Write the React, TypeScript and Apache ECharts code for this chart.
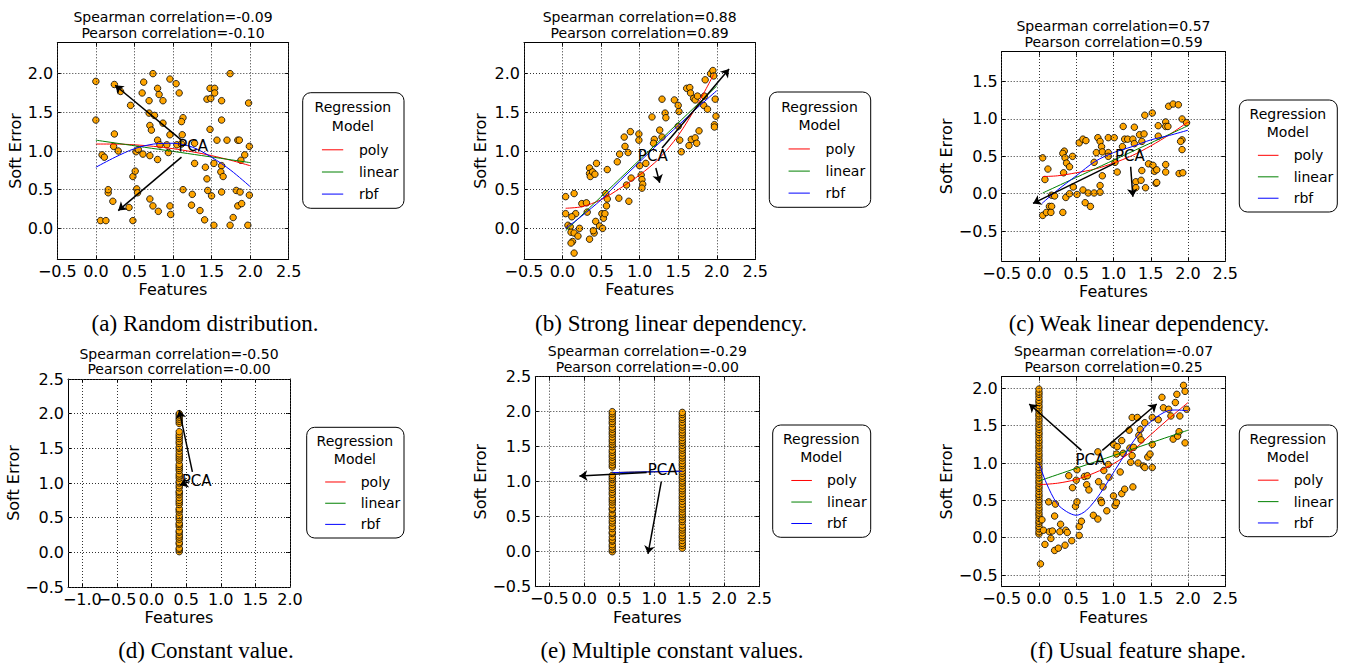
import React, { useEffect, useRef } from "react";
import * as echarts from "echarts";

const FONT = "DejaVu Sans";
const SERIF = "Liberation Serif";

// ---------- (a) Random distribution ----------
const aPoints: number[][] = [
  [0.0, 1.9], [0.0, 1.4], [0.24, 1.86], [0.32, 1.77], [0.45, 1.59], [0.62, 1.89], [0.6, 1.75], [0.74, 2.0],
  [0.69, 1.65], [0.8, 1.81], [0.82, 1.73], [0.87, 1.65], [0.96, 1.93], [1.04, 1.87], [1.08, 1.75], [0.69, 1.49],
  [0.76, 1.46], [0.7, 1.33], [0.72, 1.27], [0.87, 1.36], [0.96, 1.21], [0.8, 1.14], [1.13, 1.43], [1.11, 1.38],
  [1.12, 1.21], [0.24, 1.22], [0.23, 1.06], [0.29, 1.0], [0.08, 0.95], [0.11, 0.92], [0.52, 0.99], [0.55, 1.02],
  [0.61, 0.96], [0.7, 0.94], [0.8, 0.89], [0.83, 1.08], [0.92, 1.08], [0.94, 0.98], [1.05, 1.08], [1.11, 1.09],
  [1.28, 1.1], [1.28, 0.84], [1.42, 0.79], [1.53, 0.84], [1.44, 1.67], [1.49, 1.68], [1.48, 1.81], [1.54, 1.81],
  [1.54, 1.75], [1.63, 1.65], [1.74, 2.0], [1.48, 1.28], [1.63, 1.4], [1.57, 1.14], [1.7, 1.14], [1.84, 1.14],
  [1.86, 1.14], [1.98, 1.62], [1.99, 1.06], [1.93, 0.95], [1.88, 0.88], [1.63, 0.81], [1.62, 0.73], [1.65, 0.67],
  [1.44, 0.64], [0.48, 0.67], [0.51, 0.74], [0.16, 0.46], [0.16, 0.5], [0.53, 0.51], [0.54, 0.46], [0.22, 0.35],
  [0.43, 0.27], [0.06, 0.1], [0.13, 0.1], [0.48, 0.1], [0.7, 0.38], [0.74, 0.29], [0.81, 0.22], [0.96, 0.29],
  [0.97, 0.18], [1.13, 0.5], [1.25, 0.44], [1.24, 0.3], [1.35, 0.23], [1.41, 0.11], [1.45, 0.49], [1.5, 0.42],
  [1.53, 0.04], [1.63, 0.47], [1.74, 0.04], [1.78, 0.14], [1.82, 0.49], [1.87, 0.47], [1.84, 0.29], [1.89, 0.32],
  [1.97, 0.04], [1.99, 0.43],
];
const aPoly = [[0, 1.09], [0.25, 1.09], [0.5, 1.08], [0.75, 1.06], [1.0, 1.03], [1.25, 0.99], [1.5, 0.94], [1.75, 0.88], [2.0, 0.81]];
const aLinear = [[0, 1.14], [2.0, 0.85]];
const aRbf = [[0, 0.79], [0.25, 0.92], [0.5, 1.03], [0.75, 1.09], [1.0, 1.1], [1.25, 1.05], [1.5, 0.92], [1.75, 0.75], [2.0, 0.54]];
const aArrows = [[[1.11, 1.14], [0.25, 1.85]], [[1.11, 0.92], [0.29, 0.23]]];
const aPca = [1.26, 1.06];

// ---------- (b) Strong linear dependency ----------
const bPoints: number[][] = [
  [0.04, 0.41], [0.15, 0.45], [0.04, 0.19], [0.17, 0.19], [0.12, 0.15], [0.07, 0.04], [0.1, 0.02], [0.11, -0.05],
  [0.15, -0.06], [0.22, 0.0], [0.2, -0.1], [0.13, -0.17], [0.11, -0.19], [0.15, -0.32], [0.25, 0.32], [0.31, 0.33],
  [0.32, 0.21], [0.35, -0.14], [0.41, -0.06], [0.4, -0.03], [0.43, 0.09], [0.48, 0.03], [0.52, 0.0], [0.51, 0.19],
  [0.53, 0.13], [0.55, 0.19], [0.56, 0.45], [0.57, 0.29], [0.58, 0.38], [0.35, 0.78], [0.35, 0.71], [0.36, 0.67],
  [0.39, 0.73], [0.42, 0.7], [0.44, 0.84], [0.58, 0.76], [0.71, 0.86], [0.74, 0.96], [0.8, 1.18], [0.81, 1.06],
  [0.85, 0.98], [0.88, 1.25], [0.73, 0.39], [0.86, 0.35], [0.83, 0.56], [0.89, 0.65], [0.99, 1.22], [0.99, 1.14],
  [1.0, 0.81], [1.02, 0.69], [1.03, 0.63], [1.04, 0.57], [1.03, 0.52], [1.08, 0.84], [1.16, 1.44], [1.19, 1.15],
  [1.18, 1.1], [1.26, 1.27], [1.29, 1.67], [1.33, 1.49], [1.34, 1.43], [1.29, 1.18], [1.45, 1.66], [1.5, 1.59],
  [1.51, 1.51], [1.5, 1.32], [1.52, 1.14], [1.54, 0.99], [1.61, 1.81], [1.65, 1.82], [1.66, 1.75], [1.7, 1.68],
  [1.72, 1.66], [1.64, 1.07], [1.67, 1.15], [1.72, 1.17], [1.74, 1.1], [1.77, 1.26], [1.85, 1.92], [1.92, 2.0],
  [1.95, 2.04], [1.96, 1.97], [1.83, 1.59], [1.88, 1.54], [1.98, 1.67], [1.99, 1.45], [1.97, 1.34], [1.97, 1.31],
  [1.75, 1.71], [1.84, 1.71],
];
const bPoly = [[0.04, 0.26], [0.25, 0.28], [0.5, 0.37], [0.75, 0.52], [1.0, 0.69], [1.25, 0.9], [1.5, 1.2], [1.75, 1.6], [1.96, 1.99]];
const bLinear = [[0.04, -0.03], [2.0, 1.84]];
const bRbf = [[0.04, 0.0], [0.25, 0.16], [0.5, 0.37], [0.75, 0.62], [1.0, 0.86], [1.25, 1.1], [1.5, 1.33], [1.75, 1.56], [2.0, 1.78]];
const bArrows = [[[1.29, 1.04], [2.16, 2.06]], [[1.21, 0.78], [1.26, 0.59]]];
const bPca = [1.17, 0.93];

// ---------- (c) Weak linear dependency ----------
const cPoints: number[][] = [
  [0.05, 0.48], [0.08, 0.19], [0.12, 0.33], [0.05, -0.29], [0.1, -0.25], [0.14, -0.17], [0.17, -0.17], [0.16, -0.25],
  [0.17, -0.02], [0.21, -0.03], [0.32, -0.25], [0.33, 0.28], [0.34, 0.57], [0.32, 0.54], [0.35, 0.48], [0.37, 0.41],
  [0.41, 0.36], [0.45, 0.5], [0.36, -0.05], [0.41, 0.0], [0.46, 0.09], [0.51, -0.01], [0.54, 0.68], [0.59, 0.73],
  [0.63, 0.71], [0.59, 0.05], [0.62, -0.12], [0.66, 0.01], [0.69, -0.17], [0.74, 0.01], [0.74, 0.42], [0.77, 0.55],
  [0.79, 0.75], [0.82, 0.7], [0.84, 0.63], [0.85, 0.56], [0.82, 0.02], [0.82, 0.11], [0.85, 0.24], [0.93, 0.75],
  [1.01, 0.75], [0.93, 0.55], [0.93, 0.5], [1.02, 0.42], [1.05, 0.29], [1.13, 0.9], [1.12, 0.63], [1.15, 0.73],
  [1.19, 0.73], [1.28, 0.89], [1.26, 0.73], [1.28, 0.67], [1.35, 0.79], [1.41, 0.8], [1.38, 0.31], [1.3, 0.16],
  [1.3, 0.08], [1.37, 0.18], [1.43, 0.08], [1.38, 0.7], [1.42, 1.05], [1.52, 1.08], [1.47, 0.4], [1.53, 0.38],
  [1.55, 0.3], [1.58, 0.32], [1.57, 0.14], [1.58, 0.15], [1.6, 0.91], [1.6, 0.77], [1.7, 0.96], [1.7, 0.9],
  [1.73, 0.9], [1.7, 0.39], [1.7, 0.29], [1.74, 1.17], [1.8, 1.2], [1.87, 1.19], [1.92, 1.0], [1.98, 0.95],
  [1.92, 0.72], [1.9, 0.7], [1.92, 0.59], [1.88, 0.27], [1.93, 0.28],
];
const cPoly = [[0.05, 0.23], [0.25, 0.24], [0.5, 0.28], [0.75, 0.33], [1.0, 0.41], [1.25, 0.51], [1.5, 0.64], [1.75, 0.79], [2.0, 0.96]];
const cLinear = [[0.05, 0.01], [2.0, 0.91]];
const cRbf = [[0.04, -0.13], [0.25, 0.05], [0.5, 0.24], [0.75, 0.43], [1.0, 0.55], [1.25, 0.63], [1.5, 0.72], [1.75, 0.78], [2.0, 0.85]];
const cArrows = [[[1.02, 0.41], [-0.08, -0.13]], [[1.23, 0.36], [1.26, -0.04]]];
const cPca = [1.22, 0.5];

// ---------- (d) Constant value ----------
const dColumnX = 0.4;
const dColumnY = [
  0.01, 0.04, 0.06, 0.12, 0.14, 0.19, 0.22, 0.25, 0.29, 0.31, 0.37, 0.4, 0.42, 0.47, 0.5, 0.53, 0.58, 0.61, 0.63,
  0.69, 0.72, 0.75, 0.79, 0.83, 0.86, 0.88, 0.93, 0.96, 1.0, 1.02, 1.07, 1.1, 1.13, 1.18, 1.21, 1.24, 1.27, 1.33,
  1.36, 1.39, 1.42, 1.46, 1.5, 1.52, 1.57, 1.6, 1.64, 1.67, 1.7, 1.74, 1.86, 1.89, 1.92, 1.95, 1.98, 2.0,
];
const dArrows = [[[0.59, 1.16], [0.4, 2.05]], [[0.55, 1.02], [0.41, 0.97]]];
const dPca = [0.65, 1.03];

// ---------- (e) Multiple constant values ----------
const eColumn1X = 0.4;
const eColumn1Y = [
  0.0, 0.03, 0.07, 0.1, 0.15, 0.17, 0.21, 0.26, 0.28, 0.33, 0.36, 0.41, 0.44, 0.48, 0.52, 0.55, 0.6, 0.62, 0.67,
  0.71, 0.74, 0.77, 0.82, 0.85, 0.89, 0.92, 0.96, 0.99, 1.03, 1.06, 1.09, 1.21, 1.24, 1.28, 1.31, 1.35, 1.38,
  1.42, 1.45, 1.5, 1.53, 1.57, 1.6, 1.64, 1.68, 1.71, 1.75, 1.78, 1.83, 1.86, 1.9, 1.93, 1.97, 2.0,
];
const eColumn2X = 1.4;
const eColumn2Y = [
  0.05, 0.09, 0.12, 0.16, 0.2, 0.23, 0.27, 0.31, 0.34, 0.38, 0.43, 0.46, 0.5, 0.53, 0.57, 0.61, 0.64, 0.68, 0.72,
  0.76, 0.79, 0.83, 0.87, 0.9, 0.94, 0.98, 1.01, 1.05, 1.08, 1.12, 1.15, 1.19, 1.23, 1.26, 1.3, 1.34, 1.37, 1.41,
  1.45, 1.48, 1.52, 1.56, 1.59, 1.63, 1.67, 1.7, 1.74, 1.78, 1.81, 1.85, 1.89, 1.92, 1.96, 1.99,
];
const eRegression = [[0.4, 1.13], [1.4, 1.15]];
const eArrows = [[[0.89, 1.13], [-0.07, 1.08]], [[1.1, 1.0], [0.91, -0.03]]];
const ePca = [1.12, 1.17];

// ---------- (f) Usual feature shape ----------
const fColumnX = 0.0;
const fColumnY = [
  0.05, 0.08, 0.12, 0.15, 0.19, 0.22, 0.26, 0.3, 0.33, 0.37, 0.4, 0.44, 0.48, 0.51, 0.55, 0.58, 0.62, 0.66, 0.69,
  0.73, 0.76, 0.8, 0.84, 0.87, 0.91, 0.94, 0.98, 1.02, 1.05, 1.09, 1.12, 1.16, 1.2, 1.23, 1.27, 1.3, 1.34, 1.38,
  1.41, 1.45, 1.48, 1.52, 1.56, 1.59, 1.63, 1.66, 1.7, 1.74, 1.77, 1.81, 1.84, 1.88, 1.92, 1.95, 1.99,
];
const fPoints: number[][] = [
  [0.02, -0.35], [0.06, 0.1], [0.08, -0.09], [0.04, 0.24], [0.13, 0.48], [0.14, 0.08], [0.16, -0.01], [0.18, 0.09],
  [0.21, 0.29], [0.21, -0.17], [0.22, 0.45], [0.26, -0.14], [0.28, 0.08], [0.29, 0.18], [0.35, -0.1], [0.36, 0.1],
  [0.38, 0.07], [0.4, 0.83], [0.44, -0.04], [0.45, 0.67], [0.49, 0.42], [0.51, 0.48], [0.5, 0.77], [0.51, 0.91],
  [0.54, 0.15], [0.54, 0.03], [0.57, 0.22], [0.61, 0.82], [0.65, 0.83], [0.64, 0.71], [0.67, 0.64], [0.73, 0.3],
  [0.79, 1.15], [0.8, 0.75], [0.79, 0.25], [0.83, 0.5], [0.84, 0.47], [0.86, 0.68], [0.87, 0.9], [0.91, 0.36],
  [0.93, 0.98], [0.94, 0.81], [1.0, 1.25], [1.0, 0.56], [1.02, 0.43], [1.04, 0.47], [1.05, 1.22], [1.04, 1.12],
  [1.09, 0.88], [1.11, 0.59], [1.15, 0.65], [1.11, 1.3], [1.13, 1.13], [1.21, 1.44], [1.22, 1.2], [1.25, 1.61],
  [1.27, 1.21], [1.25, 1.1], [1.23, 1.01], [1.26, 0.68], [1.32, 1.61], [1.33, 1.0], [1.34, 1.37], [1.36, 1.45],
  [1.37, 1.31], [1.4, 0.96], [1.42, 0.94], [1.42, 1.54], [1.46, 1.08], [1.49, 1.12], [1.52, 1.25], [1.52, 0.94],
  [1.52, 1.61], [1.6, 1.58], [1.65, 1.88], [1.67, 1.74], [1.74, 1.72], [1.77, 1.63], [1.8, 1.32], [1.83, 1.81],
  [1.85, 1.92], [1.86, 1.36], [1.88, 1.42], [1.89, 1.63], [1.94, 2.04], [1.96, 1.96], [1.98, 1.72], [1.96, 1.27],
];
const fPoly = [[0, 0.71], [0.25, 0.73], [0.5, 0.78], [0.75, 0.87], [1.0, 0.99], [1.25, 1.16], [1.5, 1.38], [1.75, 1.6], [2.0, 1.81]];
const fLinear = [[0, 0.76], [2.0, 1.44]];
const fRbf = [[0, 1.0], [0.1, 0.73], [0.24, 0.46], [0.37, 0.35], [0.5, 0.3], [0.64, 0.37], [0.82, 0.59], [1.08, 1.0], [1.31, 1.35], [1.53, 1.58], [1.73, 1.7], [1.84, 1.71], [2.0, 1.7]];
const fArrows = [[[0.57, 1.17], [-0.13, 1.79]], [[0.85, 1.17], [1.58, 1.79]]];
const fPca = [0.69, 1.04];

// ---------- ticks / ranges ----------
const xTicksStd = [-0.5, 0.0, 0.5, 1.0, 1.5, 2.0, 2.5];
const xTicksD = [-1.0, -0.5, 0.0, 0.5, 1.0, 1.5, 2.0];
const xTicksDMain = [-1.0, 0.0, 0.5, 1.0, 1.5, 2.0];
const xTicksDExtra = [-0.5];
const yTicksAB = [0.0, 0.5, 1.0, 1.5, 2.0];
const yTicksC = [-0.5, 0.0, 0.5, 1.0, 1.5];
const yTicksDE = [-0.5, 0.0, 0.5, 1.0, 1.5, 2.0, 2.5];
const yTicksF = [-0.5, 0.0, 0.5, 1.0, 1.5, 2.0];

const spearman = ["-0.09", "0.88", "0.57", "-0.50", "-0.29", "-0.07"];
const pearson = ["-0.10", "0.89", "0.59", "-0.00", "-0.00", "0.25"];
const captions = [
  "(a) Random distribution.",
  "(b) Strong linear dependency.",
  "(c) Weak linear dependency.",
  "(d) Constant value.",
  "(e) Multiple constant values.",
  "(f) Usual feature shape.",
];
const legendLabels = ["poly", "linear", "rbf"];
const legendColors = ["#ff0000", "#008000", "#0000ff"];

const col = (x: number, ys: number[]) => ys.map((y) => [x, y]);

const panelsData = [
  { points: aPoints, poly: aPoly, linear: aLinear, rbf: aRbf, arrows: aArrows, pca: aPca, x: [-0.5, 2.5], y: [-0.4, 2.4], xt: xTicksStd, xl: xTicksStd, yt: yTicksAB },
  { points: bPoints, poly: bPoly, linear: bLinear, rbf: bRbf, arrows: bArrows, pca: bPca, x: [-0.5, 2.5], y: [-0.4, 2.4], xt: xTicksStd, xl: xTicksStd, yt: yTicksAB },
  { points: cPoints, poly: cPoly, linear: cLinear, rbf: cRbf, arrows: cArrows, pca: cPca, x: [-0.5, 2.5], y: [-0.9, 1.9], xt: xTicksStd, xl: xTicksStd, yt: yTicksC },
  { points: col(dColumnX, dColumnY), poly: [], linear: [], rbf: [], arrows: dArrows, pca: dPca, x: [-1.207, 2.0], y: [-0.5, 2.5], xt: xTicksD, xl: xTicksDMain, yt: yTicksDE, extra: xTicksDExtra },
  { points: [...col(eColumn1X, eColumn1Y), ...col(eColumn2X, eColumn2Y)], poly: eRegression, linear: eRegression, rbf: eRegression, arrows: eArrows, pca: ePca, x: [-0.7, 2.5], y: [-0.5, 2.5], xt: xTicksStd, xl: xTicksStd, yt: yTicksDE },
  { points: [...col(fColumnX, fColumnY), ...fPoints], poly: fPoly, linear: fLinear, rbf: fRbf, arrows: fArrows, pca: fPca, x: [-0.5, 2.5], y: [-0.656, 2.156], xt: xTicksStd, xl: xTicksStd, yt: yTicksF },
];

// layout (pixels)
const layouts = [
  { g: [57.3, 42.7, 231.4, 216.6], lg: [302.7, 92.7, 101.3, 115.6], yl: 15, cap: [205, 323] },
  { g: [524, 42.7, 231.3, 216.6], lg: [769.3, 92, 101.4, 115.3], yl: 480.7, cap: [671, 323] },
  { g: [1001.7, 51.7, 223.6, 209.3], lg: [1239.3, 100, 98, 112], yl: 946.7, cap: [1139, 323] },
  { g: [68, 379, 222, 208], lg: [306.7, 427.3, 97.3, 110.7], yl: 13.3, cap: [206, 650.5] },
  { g: [535.3, 376.7, 224, 210], lg: [772.7, 425, 98, 112.3], yl: 480.7, cap: [672, 650.5] },
  { g: [1001.7, 376.7, 223.6, 210], lg: [1239.3, 425, 98, 111.7], yl: 946.7, cap: [1138, 650.5] },
];

const fmt = (v: number) => (v < -1e-9 ? "\u2212" : "") + Math.abs(v).toFixed(1);

function makeAxis(gridIndex: number, position: string, range: number[], ticks: number[], labels: number[] | null, showLine = true) {
  return {
    type: "value",
    gridIndex,
    position,
    min: range[0],
    max: range[1],
    axisLine: { show: showLine, onZero: false, lineStyle: { color: "#000", width: 1 } },
    axisTick: { show: showLine, inside: true, length: 4, customValues: ticks, lineStyle: { color: "#000", width: 1 } },
    axisLabel: {
      show: !!labels,
      customValues: labels || ticks,
      formatter: fmt,
      fontFamily: FONT,
      fontSize: 16,
      color: "#000",
      margin: 4,
      interval: 0,
      hideOverlap: false,
      showMinLabel: true,
      showMaxLabel: true,
    },
    splitLine: { show: false },
  };
}

function buildOption() {
  const grid: any[] = [];
  const xAxis: any[] = [];
  const yAxis: any[] = [];
  const extraX: any[] = [];
  const series: any[] = [];
  const graphic: any[] = [];

  panelsData.forEach((p: any, i) => {
    const L = layouts[i];
    const [gl, gt, gw, gh] = L.g;
    grid.push({ left: gl, top: gt, width: gw, height: gh, containLabel: false });
    xAxis.push(makeAxis(i, "bottom", p.x, p.xt, p.xl));
    xAxis.push(makeAxis(i, "top", p.x, p.xt, null));
    yAxis.push(makeAxis(i, "left", p.y, p.yt, p.yt));
    yAxis.push(makeAxis(i, "right", p.y, p.yt, null));
    if (p.extra) extraX.push(makeAxis(i, "bottom", p.x, p.extra, p.extra, false));
    const xi = 2 * i;
    const yi = 2 * i;

    // dotted grid lines
    series.push({
      type: "scatter",
      xAxisIndex: xi,
      yAxisIndex: yi,
      data: [],
      z: 1,
      silent: true,
      markLine: {
        silent: true,
        symbol: ["none", "none"],
        label: { show: false },
        lineStyle: { color: "#333", type: [1, 2], width: 1 },
        emphasis: { disabled: true },
        data: [
          ...p.xt.map((v: number) => ({ xAxis: v })),
          ...p.yt.map((v: number) => ({ yAxis: v })),
        ],
      },
    });

    series.push({
      type: "scatter",
      xAxisIndex: xi,
      yAxisIndex: yi,
      data: p.points,
      symbolSize: 6.5,
      itemStyle: { color: "#FFA500", borderColor: "#000", borderWidth: 0.8, opacity: 1 },
      z: 2,
      silent: true,
    });

    const lines = [p.poly, p.linear, p.rbf];
    lines.forEach((d: number[][], k: number) => {
      series.push({
        type: "line",
        xAxisIndex: xi,
        yAxisIndex: yi,
        data: d,
        showSymbol: false,
        symbol: "none",
        smooth: 0.3,
        lineStyle: { color: legendColors[k], width: 1 },
        z: 3,
        silent: true,
      });
    });

    series.push({
      type: "lines",
      coordinateSystem: "cartesian2d",
      xAxisIndex: xi,
      yAxisIndex: yi,
      polyline: false,
      symbol: ["none", "arrow"],
      symbolSize: 8,
      lineStyle: { color: "#000", width: 1.5, opacity: 1, curveness: 0 },
      data: p.arrows.map((a: number[][]) => ({ coords: a })),
      z: 5,
      silent: true,
    });

    series.push({
      type: "scatter",
      xAxisIndex: xi,
      yAxisIndex: yi,
      data: [p.pca],
      symbolSize: 1,
      itemStyle: { color: "rgba(0,0,0,0)", borderWidth: 0 },
      label: {
        show: true, position: "inside", formatter: "PCA", fontFamily: FONT, fontSize: 15,
        color: "#000", textBorderWidth: 0, opacity: 1,
      },
      z: 6,
      silent: true,
    });

    // titles
    const cx = gl + gw / 2;
    graphic.push({
      type: "text", x: cx, y: gt - 25.5,
      style: { text: "Spearman correlation=" + spearman[i], fill: "#000", fontFamily: FONT, fontSize: 14, align: "center", verticalAlign: "middle" },
    });
    graphic.push({
      type: "text", x: cx, y: gt - 10,
      style: { text: "Pearson correlation=" + pearson[i], fill: "#000", fontFamily: FONT, fontSize: 14, align: "center", verticalAlign: "middle" },
    });
    // axis names
    graphic.push({
      type: "text", x: cx, y: gt + gh + 30.5,
      style: { text: "Features", fill: "#000", fontFamily: FONT, fontSize: 16, align: "center", verticalAlign: "middle" },
    });
    graphic.push({
      type: "text", x: L.yl, y: gt + gh / 2, rotation: Math.PI / 2,
      style: { text: "Soft Error", fill: "#000", fontFamily: FONT, fontSize: 16, align: "center", verticalAlign: "middle" },
    });
    // caption
    graphic.push({
      type: "text", x: L.cap[0], y: L.cap[1],
      style: { text: captions[i], fill: "#000", fontFamily: SERIF, fontSize: 23, align: "center", verticalAlign: "middle" },
    });
    // legend
    const [lx, ly, lw, lh] = L.lg;
    graphic.push({
      type: "rect",
      shape: { x: lx, y: ly, width: lw, height: lh, r: 8 },
      style: { fill: "#fff", stroke: "#000", lineWidth: 1 },
      z: 10,
    });
    graphic.push({
      type: "text", x: lx + 0.495 * lw, y: ly + 0.126 * lh, z: 11,
      style: { text: "Regression", fill: "#000", fontFamily: FONT, fontSize: 14, align: "center", verticalAlign: "middle" },
    });
    graphic.push({
      type: "text", x: lx + 0.495 * lw, y: ly + 0.288 * lh, z: 11,
      style: { text: "Model", fill: "#000", fontFamily: FONT, fontSize: 14, align: "center", verticalAlign: "middle" },
    });
    const rows = [0.494, 0.686, 0.877];
    legendLabels.forEach((lab, k) => {
      const yy = ly + rows[k] * lh;
      graphic.push({
        type: "line", z: 11,
        shape: { x1: lx + 0.19 * lw, y1: yy, x2: lx + 0.4 * lw, y2: yy },
        style: { stroke: legendColors[k], lineWidth: 1 },
      });
      graphic.push({
        type: "text", x: lx + 0.555 * lw, y: yy, z: 11,
        style: { text: lab, fill: "#000", fontFamily: FONT, fontSize: 14, align: "left", verticalAlign: "middle" },
      });
    });
  });

  return { animation: false, backgroundColor: "#fff", grid, xAxis: [...xAxis, ...extraX], yAxis, series, graphic };
}

export default function App() {
  const ref = useRef<HTMLDivElement>(null);
  useEffect(() => {
    if (!ref.current) return;
    const chart = echarts.init(ref.current, undefined, { renderer: "svg" });
    chart.setOption(buildOption() as any);
    return () => chart.dispose();
  }, []);
  return (
    <div
      ref={ref}
      style={{ position: "absolute", left: 0, top: 0, width: 1348, height: 667, background: "#fff" }}
    />
  );
}
